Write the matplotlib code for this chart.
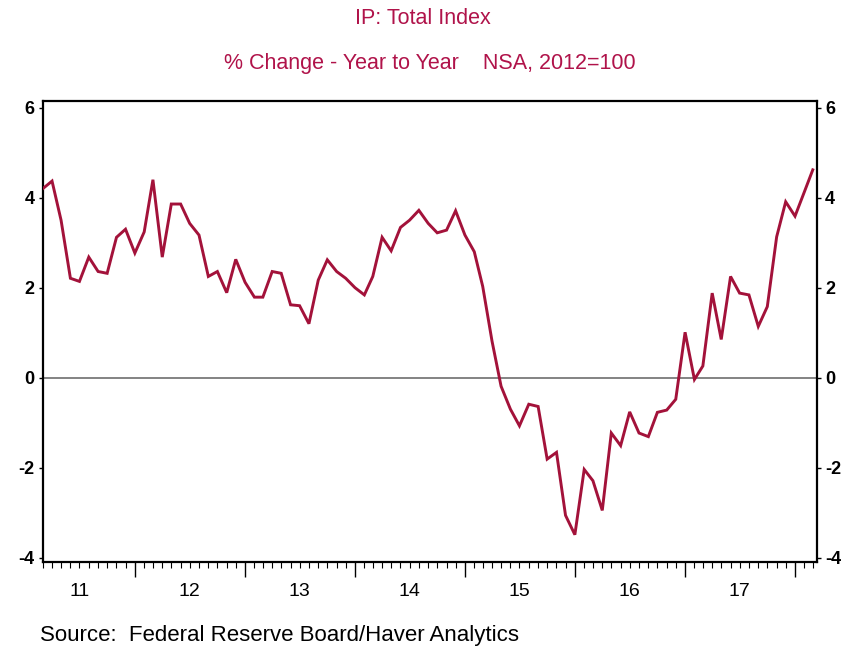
# IP: Total Index, % change year to year (NSA)
import numpy as np
import pandas as pd
import matplotlib
matplotlib.use('Agg')
import matplotlib.pyplot as plt
import matplotlib.dates as mdates
import matplotlib.transforms as mtransforms

# monthly values, Mar 2011 .. Mar 2018
start_month = '2011-03-01'
ip_yoy = [4.20, 4.37, 3.50, 2.21, 2.14, 2.68, 2.36, 2.32, 3.12, 3.30,
          2.77, 3.24, 4.40, 2.68, 3.86, 3.86, 3.43, 3.17, 2.25, 2.36,
          1.89, 2.63, 2.12, 1.79, 1.79, 2.36, 2.32, 1.62, 1.60, 1.20,
          2.17, 2.62, 2.36, 2.21, 2.00, 1.84, 2.25, 3.12, 2.82, 3.34,
          3.50, 3.72, 3.43, 3.22, 3.28, 3.71, 3.17, 2.80, 2.03, 0.81,
          -0.19, -0.70, -1.07, -0.59, -0.64, -1.81, -1.66, -3.06, -3.49, -2.04,
          -2.29, -2.95, -1.23, -1.51, -0.76, -1.23, -1.31, -0.77, -0.72, -0.48,
          1.01, -0.04, 0.26, 1.88, 0.85, 2.25, 1.88, 1.84, 1.14, 1.58,
          3.13, 3.91, 3.59, 4.13, 4.62]
year_labels = ['11', '12', '13', '14', '15', '16', '17']
y_ticks = [-4, -2, 0, 2, 4, 6]

dates = pd.date_range(start_month, periods=len(ip_yoy), freq='MS')

plt.rcParams['axes.unicode_minus'] = False
title_color = '#B0134A'
line_color = '#A3123A'
fonts = ['Liberation Sans', 'DejaVu Sans']

fig = plt.figure(figsize=(8.46, 6.5), dpi=100)
ax = fig.add_axes([42.7 / 846, 1 - 561.7 / 650, (816.7 - 42.7) / 846, (561.7 - 101) / 650])

ax.plot(dates, ip_yoy, color=line_color, lw=2.1, solid_joinstyle='miter', zorder=3)
ax.axhline(0, color='#6e6e6e', lw=1.2, zorder=2)

ax.set_xlim(pd.Timestamp('2011-03-01'), pd.Timestamp('2018-03-14'))
ax.set_ylim(-4.09, 6.15)

for s in ax.spines.values():
    s.set_linewidth(1.6)
    s.set_color('black')

# y axis, labels on both sides
ax.set_yticks(y_ticks)
ax.tick_params(axis='y', direction='out', length=3, width=1, left=True, right=True,
               labelleft=True, labelright=True, labelsize=13, pad=3)
for lab in ax.get_yticklabels():
    lab.set_family(fonts)
    lab.set_fontweight('bold')

# x axis: year ticks + monthly minor ticks, year labels mid-year
ax.xaxis.set_major_locator(mdates.YearLocator())
ax.xaxis.set_minor_locator(mdates.MonthLocator())
ax.xaxis.set_major_formatter(plt.NullFormatter())
ax.tick_params(axis='x', which='major', direction='out', length=11, width=1)
ax.tick_params(axis='x', which='minor', direction='out', length=4, width=0.8)

trans = mtransforms.blended_transform_factory(ax.transData, fig.transFigure)
for lab in year_labels:
    x = mdates.date2num(pd.Timestamp('20' + lab + '-07-01'))
    ax.text(x, 1 - 592 / 650, lab, transform=trans, ha='center', va='center',
            fontsize=14, family=fonts)

fig.text(0.5, 1 - 18 / 650, 'IP: Total Index', ha='center', va='center',
         color=title_color, fontsize=15.5, family=fonts)
fig.text(0.508, 1 - 64 / 650, '% Change - Year to Year    NSA, 2012=100', ha='center', va='center',
         color=title_color, fontsize=15.5, family=fonts)
fig.text(40 / 846, 1 - 635 / 650, 'Source:  Federal Reserve Board/Haver Analytics',
         ha='left', va='center', fontsize=16, family=fonts)

fig.savefig('out.png', dpi=100)
